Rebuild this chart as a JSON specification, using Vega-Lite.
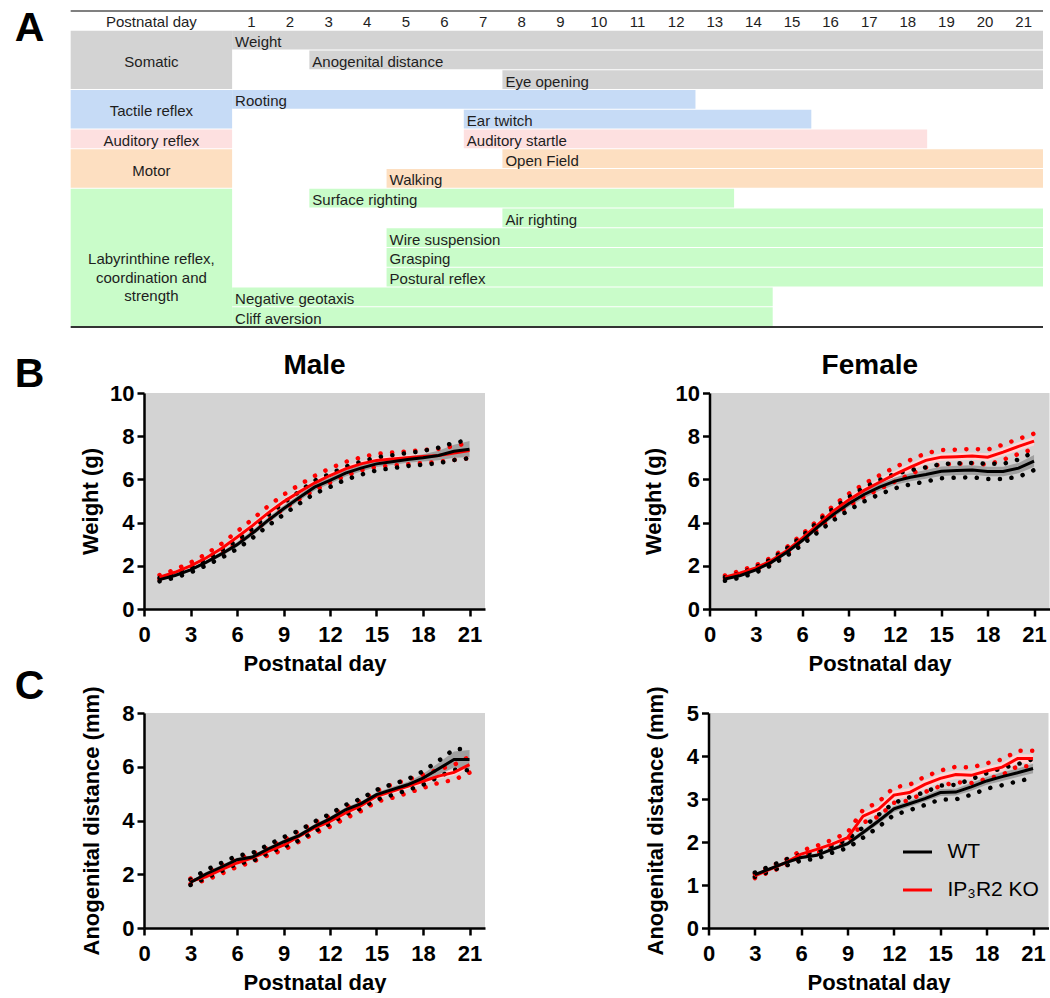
{
"$schema": "https://vega.github.io/schema/vega-lite/v6.json",
"background": "white",
"padding": {"left": 14, "top": 8, "right": 0, "bottom": 0},
"spacing": 24,
"config": {
  "font": "Liberation Sans",
  "view": {"stroke": null},
  "axis": {"grid": false, "domainColor": "black", "domainWidth": 2.5, "tickColor": "black", "tickWidth": 2.5, "tickSize": 7, "labelFont": "Liberation Sans", "labelFontSize": 22, "labelFontWeight": "bold", "labelColor": "black", "titleFont": "Liberation Sans", "titleFontSize": 22, "titleFontWeight": "bold", "titleColor": "black", "labelFlush": false, "labelOverlap": false},
  "text": {"font": "Liberation Sans", "color": "black"}
},
"datasets": {
  "groups": [
    {"group": "Somatic", "label": "Somatic", "first": 1, "last": 3},
    {"group": "Tactile reflex", "label": "Tactile reflex", "first": 4, "last": 5},
    {"group": "Auditory reflex", "label": "Auditory reflex", "first": 6, "last": 6},
    {"group": "Motor", "label": "Motor", "first": 7, "last": 8},
    {"group": "Labyrinthine", "label": "Labyrinthine reflex,\ncoordination and\nstrength", "first": 9, "last": 15}
  ],
  "tests": [
    {"row": 1, "test": "Weight", "group": "Somatic", "from": 1, "to": 21},
    {"row": 2, "test": "Anogenital distance", "group": "Somatic", "from": 3, "to": 21},
    {"row": 3, "test": "Eye opening", "group": "Somatic", "from": 8, "to": 21},
    {"row": 4, "test": "Rooting", "group": "Tactile reflex", "from": 1, "to": 12},
    {"row": 5, "test": "Ear twitch", "group": "Tactile reflex", "from": 7, "to": 15},
    {"row": 6, "test": "Auditory startle", "group": "Auditory reflex", "from": 7, "to": 18},
    {"row": 7, "test": "Open Field", "group": "Motor", "from": 8, "to": 21},
    {"row": 8, "test": "Walking", "group": "Motor", "from": 5, "to": 21},
    {"row": 9, "test": "Surface righting", "group": "Labyrinthine", "from": 3, "to": 13},
    {"row": 10, "test": "Air righting", "group": "Labyrinthine", "from": 8, "to": 21},
    {"row": 11, "test": "Wire suspension", "group": "Labyrinthine", "from": 5, "to": 21},
    {"row": 12, "test": "Grasping", "group": "Labyrinthine", "from": 5, "to": 21},
    {"row": 13, "test": "Postural reflex", "group": "Labyrinthine", "from": 5, "to": 21},
    {"row": 14, "test": "Negative geotaxis", "group": "Labyrinthine", "from": 1, "to": 14},
    {"row": 15, "test": "Cliff aversion", "group": "Labyrinthine", "from": 1, "to": 14}
  ],
  "days": [{"day": 1},{"day": 2},{"day": 3},{"day": 4},{"day": 5},{"day": 6},{"day": 7},{"day": 8},{"day": 9},{"day": 10},{"day": 11},{"day": 12},{"day": 13},{"day": 14},{"day": 15},{"day": 16},{"day": 17},{"day": 18},{"day": 19},{"day": 20},{"day": 21}],
  "maleWeight": [
    {"geno": "IP₃R2 KO", "day": 1, "mean": 1.47, "sem": 0.06, "sd": 0.10},
    {"geno": "IP₃R2 KO", "day": 2, "mean": 1.70, "sem": 0.07, "sd": 0.12},
    {"geno": "IP₃R2 KO", "day": 3, "mean": 2.00, "sem": 0.08, "sd": 0.15},
    {"geno": "IP₃R2 KO", "day": 4, "mean": 2.36, "sem": 0.09, "sd": 0.18},
    {"geno": "IP₃R2 KO", "day": 5, "mean": 2.80, "sem": 0.10, "sd": 0.22},
    {"geno": "IP₃R2 KO", "day": 6, "mean": 3.32, "sem": 0.12, "sd": 0.26},
    {"geno": "IP₃R2 KO", "day": 7, "mean": 3.86, "sem": 0.13, "sd": 0.30},
    {"geno": "IP₃R2 KO", "day": 8, "mean": 4.44, "sem": 0.14, "sd": 0.32},
    {"geno": "IP₃R2 KO", "day": 9, "mean": 4.96, "sem": 0.14, "sd": 0.33},
    {"geno": "IP₃R2 KO", "day": 10, "mean": 5.41, "sem": 0.14, "sd": 0.33},
    {"geno": "IP₃R2 KO", "day": 11, "mean": 5.83, "sem": 0.14, "sd": 0.33},
    {"geno": "IP₃R2 KO", "day": 12, "mean": 6.18, "sem": 0.14, "sd": 0.33},
    {"geno": "IP₃R2 KO", "day": 13, "mean": 6.49, "sem": 0.14, "sd": 0.32},
    {"geno": "IP₃R2 KO", "day": 14, "mean": 6.72, "sem": 0.13, "sd": 0.30},
    {"geno": "IP₃R2 KO", "day": 15, "mean": 6.88, "sem": 0.13, "sd": 0.30},
    {"geno": "IP₃R2 KO", "day": 16, "mean": 6.94, "sem": 0.13, "sd": 0.30},
    {"geno": "IP₃R2 KO", "day": 17, "mean": 7.00, "sem": 0.13, "sd": 0.30},
    {"geno": "IP₃R2 KO", "day": 18, "mean": 7.06, "sem": 0.13, "sd": 0.30},
    {"geno": "IP₃R2 KO", "day": 19, "mean": 7.11, "sem": 0.13, "sd": 0.30},
    {"geno": "IP₃R2 KO", "day": 20, "mean": 7.22, "sem": 0.14, "sd": 0.32},
    {"geno": "IP₃R2 KO", "day": 21, "mean": 7.34, "sem": 0.15, "sd": 0.35},
    {"geno": "WT", "day": 1, "mean": 1.36, "sem": 0.05, "sd": 0.08},
    {"geno": "WT", "day": 2, "mean": 1.55, "sem": 0.06, "sd": 0.10},
    {"geno": "WT", "day": 3, "mean": 1.81, "sem": 0.07, "sd": 0.12},
    {"geno": "WT", "day": 4, "mean": 2.16, "sem": 0.08, "sd": 0.15},
    {"geno": "WT", "day": 5, "mean": 2.55, "sem": 0.10, "sd": 0.18},
    {"geno": "WT", "day": 6, "mean": 2.98, "sem": 0.11, "sd": 0.20},
    {"geno": "WT", "day": 7, "mean": 3.51, "sem": 0.12, "sd": 0.22},
    {"geno": "WT", "day": 8, "mean": 4.10, "sem": 0.13, "sd": 0.25},
    {"geno": "WT", "day": 9, "mean": 4.64, "sem": 0.14, "sd": 0.27},
    {"geno": "WT", "day": 10, "mean": 5.15, "sem": 0.15, "sd": 0.28},
    {"geno": "WT", "day": 11, "mean": 5.64, "sem": 0.15, "sd": 0.30},
    {"geno": "WT", "day": 12, "mean": 5.95, "sem": 0.15, "sd": 0.30},
    {"geno": "WT", "day": 13, "mean": 6.29, "sem": 0.15, "sd": 0.30},
    {"geno": "WT", "day": 14, "mean": 6.52, "sem": 0.15, "sd": 0.30},
    {"geno": "WT", "day": 15, "mean": 6.72, "sem": 0.15, "sd": 0.30},
    {"geno": "WT", "day": 16, "mean": 6.82, "sem": 0.15, "sd": 0.30},
    {"geno": "WT", "day": 17, "mean": 6.92, "sem": 0.15, "sd": 0.30},
    {"geno": "WT", "day": 18, "mean": 7.00, "sem": 0.17, "sd": 0.32},
    {"geno": "WT", "day": 19, "mean": 7.11, "sem": 0.22, "sd": 0.36},
    {"geno": "WT", "day": 20, "mean": 7.30, "sem": 0.30, "sd": 0.40},
    {"geno": "WT", "day": 21, "mean": 7.40, "sem": 0.38, "sd": 0.42}
  ],
  "femaleWeight": [
    {"geno": "IP₃R2 KO", "day": 1, "mean": 1.47, "sem": 0.05, "sd": 0.08},
    {"geno": "IP₃R2 KO", "day": 2, "mean": 1.67, "sem": 0.06, "sd": 0.10},
    {"geno": "IP₃R2 KO", "day": 3, "mean": 1.90, "sem": 0.07, "sd": 0.12},
    {"geno": "IP₃R2 KO", "day": 4, "mean": 2.24, "sem": 0.08, "sd": 0.14},
    {"geno": "IP₃R2 KO", "day": 5, "mean": 2.70, "sem": 0.09, "sd": 0.16},
    {"geno": "IP₃R2 KO", "day": 6, "mean": 3.28, "sem": 0.10, "sd": 0.18},
    {"geno": "IP₃R2 KO", "day": 7, "mean": 3.89, "sem": 0.12, "sd": 0.22},
    {"geno": "IP₃R2 KO", "day": 8, "mean": 4.53, "sem": 0.13, "sd": 0.25},
    {"geno": "IP₃R2 KO", "day": 9, "mean": 5.05, "sem": 0.14, "sd": 0.28},
    {"geno": "IP₃R2 KO", "day": 10, "mean": 5.49, "sem": 0.15, "sd": 0.30},
    {"geno": "IP₃R2 KO", "day": 11, "mean": 5.87, "sem": 0.16, "sd": 0.32},
    {"geno": "IP₃R2 KO", "day": 12, "mean": 6.23, "sem": 0.17, "sd": 0.33},
    {"geno": "IP₃R2 KO", "day": 13, "mean": 6.57, "sem": 0.17, "sd": 0.33},
    {"geno": "IP₃R2 KO", "day": 14, "mean": 6.88, "sem": 0.17, "sd": 0.33},
    {"geno": "IP₃R2 KO", "day": 15, "mean": 7.03, "sem": 0.17, "sd": 0.33},
    {"geno": "IP₃R2 KO", "day": 16, "mean": 7.05, "sem": 0.17, "sd": 0.33},
    {"geno": "IP₃R2 KO", "day": 17, "mean": 7.08, "sem": 0.17, "sd": 0.33},
    {"geno": "IP₃R2 KO", "day": 18, "mean": 7.03, "sem": 0.18, "sd": 0.35},
    {"geno": "IP₃R2 KO", "day": 19, "mean": 7.26, "sem": 0.18, "sd": 0.35},
    {"geno": "IP₃R2 KO", "day": 20, "mean": 7.53, "sem": 0.19, "sd": 0.35},
    {"geno": "IP₃R2 KO", "day": 21, "mean": 7.77, "sem": 0.20, "sd": 0.35},
    {"geno": "WT", "day": 1, "mean": 1.39, "sem": 0.05, "sd": 0.08},
    {"geno": "WT", "day": 2, "mean": 1.55, "sem": 0.06, "sd": 0.10},
    {"geno": "WT", "day": 3, "mean": 1.81, "sem": 0.07, "sd": 0.12},
    {"geno": "WT", "day": 4, "mean": 2.16, "sem": 0.08, "sd": 0.14},
    {"geno": "WT", "day": 5, "mean": 2.63, "sem": 0.09, "sd": 0.17},
    {"geno": "WT", "day": 6, "mean": 3.17, "sem": 0.10, "sd": 0.20},
    {"geno": "WT", "day": 7, "mean": 3.79, "sem": 0.12, "sd": 0.24},
    {"geno": "WT", "day": 8, "mean": 4.37, "sem": 0.13, "sd": 0.27},
    {"geno": "WT", "day": 9, "mean": 4.87, "sem": 0.15, "sd": 0.30},
    {"geno": "WT", "day": 10, "mean": 5.30, "sem": 0.16, "sd": 0.32},
    {"geno": "WT", "day": 11, "mean": 5.64, "sem": 0.17, "sd": 0.33},
    {"geno": "WT", "day": 12, "mean": 5.92, "sem": 0.17, "sd": 0.33},
    {"geno": "WT", "day": 13, "mean": 6.10, "sem": 0.18, "sd": 0.33},
    {"geno": "WT", "day": 14, "mean": 6.23, "sem": 0.20, "sd": 0.33},
    {"geno": "WT", "day": 15, "mean": 6.38, "sem": 0.22, "sd": 0.33},
    {"geno": "WT", "day": 16, "mean": 6.41, "sem": 0.22, "sd": 0.33},
    {"geno": "WT", "day": 17, "mean": 6.43, "sem": 0.22, "sd": 0.33},
    {"geno": "WT", "day": 18, "mean": 6.37, "sem": 0.22, "sd": 0.35},
    {"geno": "WT", "day": 19, "mean": 6.37, "sem": 0.22, "sd": 0.35},
    {"geno": "WT", "day": 20, "mean": 6.52, "sem": 0.24, "sd": 0.40},
    {"geno": "WT", "day": 21, "mean": 6.85, "sem": 0.28, "sd": 0.42}
  ],
  "maleAgd": [
    {"geno": "IP₃R2 KO", "day": 3, "mean": 1.74, "sem": 0.05, "sd": 0.10},
    {"geno": "IP₃R2 KO", "day": 4, "mean": 1.90, "sem": 0.06, "sd": 0.12},
    {"geno": "IP₃R2 KO", "day": 5, "mean": 2.17, "sem": 0.07, "sd": 0.15},
    {"geno": "IP₃R2 KO", "day": 6, "mean": 2.42, "sem": 0.07, "sd": 0.15},
    {"geno": "IP₃R2 KO", "day": 7, "mean": 2.61, "sem": 0.07, "sd": 0.15},
    {"geno": "IP₃R2 KO", "day": 8, "mean": 2.85, "sem": 0.07, "sd": 0.15},
    {"geno": "IP₃R2 KO", "day": 9, "mean": 3.08, "sem": 0.08, "sd": 0.18},
    {"geno": "IP₃R2 KO", "day": 10, "mean": 3.41, "sem": 0.09, "sd": 0.20},
    {"geno": "IP₃R2 KO", "day": 11, "mean": 3.72, "sem": 0.09, "sd": 0.20},
    {"geno": "IP₃R2 KO", "day": 12, "mean": 3.97, "sem": 0.09, "sd": 0.20},
    {"geno": "IP₃R2 KO", "day": 13, "mean": 4.28, "sem": 0.09, "sd": 0.20},
    {"geno": "IP₃R2 KO", "day": 14, "mean": 4.55, "sem": 0.09, "sd": 0.20},
    {"geno": "IP₃R2 KO", "day": 15, "mean": 4.90, "sem": 0.09, "sd": 0.20},
    {"geno": "IP₃R2 KO", "day": 16, "mean": 5.09, "sem": 0.11, "sd": 0.25},
    {"geno": "IP₃R2 KO", "day": 17, "mean": 5.27, "sem": 0.11, "sd": 0.25},
    {"geno": "IP₃R2 KO", "day": 18, "mean": 5.46, "sem": 0.11, "sd": 0.25},
    {"geno": "IP₃R2 KO", "day": 19, "mean": 5.65, "sem": 0.11, "sd": 0.25},
    {"geno": "IP₃R2 KO", "day": 20, "mean": 5.79, "sem": 0.12, "sd": 0.28},
    {"geno": "IP₃R2 KO", "day": 21, "mean": 6.08, "sem": 0.13, "sd": 0.30},
    {"geno": "WT", "day": 3, "mean": 1.70, "sem": 0.05, "sd": 0.10},
    {"geno": "WT", "day": 4, "mean": 2.01, "sem": 0.07, "sd": 0.15},
    {"geno": "WT", "day": 5, "mean": 2.27, "sem": 0.07, "sd": 0.15},
    {"geno": "WT", "day": 6, "mean": 2.54, "sem": 0.07, "sd": 0.15},
    {"geno": "WT", "day": 7, "mean": 2.64, "sem": 0.07, "sd": 0.15},
    {"geno": "WT", "day": 8, "mean": 2.94, "sem": 0.07, "sd": 0.15},
    {"geno": "WT", "day": 9, "mean": 3.20, "sem": 0.08, "sd": 0.18},
    {"geno": "WT", "day": 10, "mean": 3.44, "sem": 0.08, "sd": 0.18},
    {"geno": "WT", "day": 11, "mean": 3.78, "sem": 0.08, "sd": 0.18},
    {"geno": "WT", "day": 12, "mean": 4.06, "sem": 0.08, "sd": 0.18},
    {"geno": "WT", "day": 13, "mean": 4.40, "sem": 0.08, "sd": 0.18},
    {"geno": "WT", "day": 14, "mean": 4.63, "sem": 0.08, "sd": 0.18},
    {"geno": "WT", "day": 15, "mean": 4.96, "sem": 0.08, "sd": 0.18},
    {"geno": "WT", "day": 16, "mean": 5.15, "sem": 0.10, "sd": 0.20},
    {"geno": "WT", "day": 17, "mean": 5.33, "sem": 0.10, "sd": 0.20},
    {"geno": "WT", "day": 18, "mean": 5.58, "sem": 0.15, "sd": 0.25},
    {"geno": "WT", "day": 19, "mean": 5.92, "sem": 0.22, "sd": 0.30},
    {"geno": "WT", "day": 20, "mean": 6.27, "sem": 0.30, "sd": 0.38},
    {"geno": "WT", "day": 21, "mean": 6.27, "sem": 0.35, "sd": 0.40}
  ],
  "femaleAgd": [
    {"geno": "IP₃R2 KO", "day": 3, "mean": 1.21, "sem": 0.03, "sd": 0.05},
    {"geno": "IP₃R2 KO", "day": 4, "mean": 1.37, "sem": 0.03, "sd": 0.06},
    {"geno": "IP₃R2 KO", "day": 5, "mean": 1.52, "sem": 0.04, "sd": 0.07},
    {"geno": "IP₃R2 KO", "day": 6, "mean": 1.72, "sem": 0.04, "sd": 0.08},
    {"geno": "IP₃R2 KO", "day": 7, "mean": 1.83, "sem": 0.04, "sd": 0.08},
    {"geno": "IP₃R2 KO", "day": 8, "mean": 1.95, "sem": 0.05, "sd": 0.10},
    {"geno": "IP₃R2 KO", "day": 9, "mean": 2.10, "sem": 0.06, "sd": 0.12},
    {"geno": "IP₃R2 KO", "day": 10, "mean": 2.60, "sem": 0.08, "sd": 0.15},
    {"geno": "IP₃R2 KO", "day": 11, "mean": 2.76, "sem": 0.09, "sd": 0.17},
    {"geno": "IP₃R2 KO", "day": 12, "mean": 3.09, "sem": 0.10, "sd": 0.18},
    {"geno": "IP₃R2 KO", "day": 13, "mean": 3.15, "sem": 0.10, "sd": 0.18},
    {"geno": "IP₃R2 KO", "day": 14, "mean": 3.34, "sem": 0.10, "sd": 0.18},
    {"geno": "IP₃R2 KO", "day": 15, "mean": 3.48, "sem": 0.10, "sd": 0.18},
    {"geno": "IP₃R2 KO", "day": 16, "mean": 3.57, "sem": 0.10, "sd": 0.18},
    {"geno": "IP₃R2 KO", "day": 17, "mean": 3.55, "sem": 0.10, "sd": 0.18},
    {"geno": "IP₃R2 KO", "day": 18, "mean": 3.65, "sem": 0.10, "sd": 0.18},
    {"geno": "IP₃R2 KO", "day": 19, "mean": 3.74, "sem": 0.10, "sd": 0.18},
    {"geno": "IP₃R2 KO", "day": 20, "mean": 3.94, "sem": 0.10, "sd": 0.18},
    {"geno": "IP₃R2 KO", "day": 21, "mean": 3.94, "sem": 0.10, "sd": 0.18},
    {"geno": "WT", "day": 3, "mean": 1.24, "sem": 0.03, "sd": 0.05},
    {"geno": "WT", "day": 4, "mean": 1.38, "sem": 0.03, "sd": 0.06},
    {"geno": "WT", "day": 5, "mean": 1.52, "sem": 0.04, "sd": 0.07},
    {"geno": "WT", "day": 6, "mean": 1.64, "sem": 0.04, "sd": 0.07},
    {"geno": "WT", "day": 7, "mean": 1.69, "sem": 0.04, "sd": 0.08},
    {"geno": "WT", "day": 8, "mean": 1.83, "sem": 0.04, "sd": 0.08},
    {"geno": "WT", "day": 9, "mean": 1.96, "sem": 0.05, "sd": 0.10},
    {"geno": "WT", "day": 10, "mean": 2.22, "sem": 0.06, "sd": 0.12},
    {"geno": "WT", "day": 11, "mean": 2.49, "sem": 0.07, "sd": 0.14},
    {"geno": "WT", "day": 12, "mean": 2.77, "sem": 0.07, "sd": 0.14},
    {"geno": "WT", "day": 13, "mean": 2.89, "sem": 0.07, "sd": 0.15},
    {"geno": "WT", "day": 14, "mean": 3.01, "sem": 0.07, "sd": 0.15},
    {"geno": "WT", "day": 15, "mean": 3.15, "sem": 0.08, "sd": 0.16},
    {"geno": "WT", "day": 16, "mean": 3.16, "sem": 0.08, "sd": 0.17},
    {"geno": "WT", "day": 17, "mean": 3.28, "sem": 0.09, "sd": 0.18},
    {"geno": "WT", "day": 18, "mean": 3.42, "sem": 0.09, "sd": 0.18},
    {"geno": "WT", "day": 19, "mean": 3.52, "sem": 0.10, "sd": 0.20},
    {"geno": "WT", "day": 20, "mean": 3.61, "sem": 0.10, "sd": 0.20},
    {"geno": "WT", "day": 21, "mean": 3.71, "sem": 0.11, "sd": 0.22}
  ]
},
"vconcat": [
  {"hconcat": [
    {
      "width": 899, "height": 316,
      "view": {"fill": "white", "stroke": null},
      "layer": [
        {"data": {"name": "groups"},
         "transform": [{"calculate": "datum.first - 0.5", "as": "top"}, {"calculate": "datum.last + 0.5", "as": "bottom"}],
         "mark": {"type": "rect", "y2Offset": -1},
         "encoding": {
           "x": {"datum": -3.681, "type": "quantitative", "scale": {"domain": [-1.782, 21.5], "nice": false, "zero": false}, "axis": null},
           "x2": {"datum": 0.5},
           "y": {"field": "top", "type": "quantitative", "scale": {"domain": [-0.5, 15.5], "nice": false, "zero": false, "reverse": true}, "axis": null},
           "y2": {"field": "bottom"},
           "color": {"field": "group", "type": "nominal", "scale": {"domain": ["Somatic", "Tactile reflex", "Auditory reflex", "Motor", "Labyrinthine"], "range": ["#d3d3d3", "#c6dbf6", "#fde0e0", "#fddfc1", "#c9fcc9"]}, "legend": null}
         }},
        {"data": {"name": "tests"},
         "transform": [{"calculate": "datum.from - 0.5", "as": "x0"}, {"calculate": "datum.to + 0.5", "as": "x1"}, {"calculate": "datum.row - 0.5", "as": "y0"}, {"calculate": "datum.row + 0.5", "as": "y1"}],
         "mark": {"type": "rect", "y2Offset": -1},
         "encoding": {
           "x": {"field": "x0", "type": "quantitative", "scale": {"domain": [-1.782, 21.5], "nice": false, "zero": false}, "axis": null},
           "x2": {"field": "x1"},
           "y": {"field": "y0", "type": "quantitative", "scale": {"domain": [-0.5, 15.5], "nice": false, "zero": false, "reverse": true}, "axis": null},
           "y2": {"field": "y1"},
           "color": {"field": "group", "type": "nominal", "legend": null}
         }},
        {"data": {"name": "tests"},
         "transform": [{"calculate": "datum.from - 0.5", "as": "x0"}],
         "mark": {"type": "text", "align": "left", "baseline": "middle", "dx": 3, "dy": 1.5, "fontSize": 15, "color": "#1e1e1e"},
         "encoding": {
           "x": {"field": "x0", "type": "quantitative", "axis": null},
           "y": {"field": "row", "type": "quantitative", "axis": null},
           "text": {"field": "test"}
         }},
        {"data": {"name": "groups"},
         "transform": [{"calculate": "(datum.first + datum.last) / 2", "as": "mid"}],
         "mark": {"type": "text", "align": "center", "baseline": "middle", "dy": 1.5, "fontSize": 15, "lineBreak": "\n", "lineHeight": 18.5, "color": "#1e1e1e"},
         "encoding": {
           "x": {"datum": -1.59, "axis": null},
           "y": {"field": "mid", "type": "quantitative", "axis": null},
           "text": {"field": "label"}
         }},
        {"data": {"name": "days"},
         "mark": {"type": "text", "align": "center", "baseline": "middle", "dy": 1, "fontSize": 15, "color": "#1e1e1e"},
         "encoding": {
           "x": {"field": "day", "type": "quantitative", "axis": null},
           "y": {"datum": 0, "axis": null},
           "text": {"field": "day"}
         }},
        {"data": {"values": [{}]},
         "mark": {"type": "text", "align": "center", "baseline": "middle", "dy": 1, "fontSize": 15, "color": "#1e1e1e", "text": "Postnatal day"},
         "encoding": {"x": {"datum": -1.59, "axis": null}, "y": {"datum": 0, "axis": null}}},
        {"data": {"values": [{}]},
         "mark": {"type": "rule", "color": "#808080", "strokeWidth": 2},
         "encoding": {"x": {"datum": -3.681, "axis": null}, "x2": {"datum": 21.5}, "y": {"datum": -0.5, "axis": null}}},
        {"data": {"values": [{}]},
         "mark": {"type": "rule", "color": "#333333", "strokeWidth": 2},
         "encoding": {"x": {"datum": -3.681, "axis": null}, "x2": {"datum": 21.5}, "y": {"datum": 15.5, "axis": null}}},
        {"data": {"values": [{}]},
         "mark": {"type": "text", "text": "A", "fontSize": 41, "fontWeight": "bold", "align": "left", "baseline": "alphabetic"},
         "encoding": {"x": {"datum": -5.132, "axis": null}, "y": {"datum": 1.019, "axis": null}}}
      ]
    }
  ]},
  {"vconcat": [
    {"hconcat": [
      {
        "width": 341, "height": 216,
        "view": {"fill": "#d3d3d3", "stroke": null},
        "data": {"name": "maleWeight"},
        "layer": [
          {"mark": {"type": "errorband", "borders": false, "band": {"opacity": 1}},
           "encoding": {
             "x": {"field": "day", "type": "quantitative", "title": "Postnatal day", "scale": {"domain": [0, 22], "nice": false, "zero": false}, "axis": {"values": [0, 3, 6, 9, 12, 15, 18, 21], "labelPadding": 8, "titlePadding": 8}},
             "y": {"field": "mean", "type": "quantitative", "title": "Weight (g)", "scale": {"domain": [0, 10], "nice": false}, "axis": {"values": [0, 2, 4, 6, 8, 10], "labelPadding": 3, "titlePadding": 7}},
             "yError": {"field": "sem"},
             "color": {"field": "geno", "type": "nominal", "scale": {"domain": ["WT", "IP₃R2 KO"], "range": ["#a0a0a0", "#ffd4d4"]}, "legend": null}
           }},
          {"mark": {"type": "errorband", "band": false, "borders": {"strokeDash": [0.1, 11.5], "strokeCap": "round", "strokeWidth": 4.5}},
           "encoding": {
             "x": {"field": "day", "type": "quantitative", "title": "Postnatal day", "scale": {"domain": [0, 22], "nice": false, "zero": false}},
             "y": {"field": "mean", "type": "quantitative", "title": "Weight (g)", "scale": {"domain": [0, 10], "nice": false}},
             "yError": {"field": "sd"},
             "color": {"field": "geno", "type": "nominal", "scale": {"domain": ["WT", "IP₃R2 KO"], "range": ["black", "red"]}, "legend": null}
           }},
          {"mark": {"type": "line", "strokeWidth": 3},
           "encoding": {
             "x": {"field": "day", "type": "quantitative", "title": "Postnatal day", "scale": {"domain": [0, 22], "nice": false, "zero": false}},
             "y": {"field": "mean", "type": "quantitative", "title": "Weight (g)", "scale": {"domain": [0, 10], "nice": false}},
             "color": {"field": "geno", "type": "nominal", "scale": {"domain": ["WT", "IP₃R2 KO"], "range": ["black", "red"]}, "legend": null}
           }},
          {"data": {"values": [{}]},
           "mark": {"type": "text", "text": "B", "fontSize": 41, "fontWeight": "bold", "align": "left", "baseline": "alphabetic"},
           "encoding": {"x": {"datum": -8.342, "title": "Postnatal day"}, "y": {"datum": 10.28, "title": "Weight (g)"}}},
          {"data": {"values": [{}]},
           "mark": {"type": "text", "text": "Male", "fontSize": 28, "fontWeight": "bold", "align": "center", "baseline": "alphabetic"},
           "encoding": {"x": {"datum": 11, "title": "Postnatal day"}, "y": {"datum": 10.87, "title": "Weight (g)"}}}
        ],
        "resolve": {"scale": {"color": "independent"}}
      },
      {
        "width": 340, "height": 216,
        "view": {"fill": "#d3d3d3", "stroke": null},
        "data": {"name": "femaleWeight"},
        "layer": [
          {"mark": {"type": "errorband", "borders": false, "band": {"opacity": 1}},
           "encoding": {
             "x": {"field": "day", "type": "quantitative", "title": "Postnatal day", "scale": {"domain": [0, 22], "nice": false, "zero": false}, "axis": {"values": [0, 3, 6, 9, 12, 15, 18, 21], "labelPadding": 8, "titlePadding": 8}},
             "y": {"field": "mean", "type": "quantitative", "title": "Weight (g)", "scale": {"domain": [0, 10], "nice": false}, "axis": {"values": [0, 2, 4, 6, 8, 10], "labelPadding": 3, "titlePadding": 9.5}},
             "yError": {"field": "sem"},
             "color": {"field": "geno", "type": "nominal", "scale": {"domain": ["WT", "IP₃R2 KO"], "range": ["#a0a0a0", "#ffd4d4"]}, "legend": null}
           }},
          {"mark": {"type": "errorband", "band": false, "borders": {"strokeDash": [0.1, 11.5], "strokeCap": "round", "strokeWidth": 4.5}},
           "encoding": {
             "x": {"field": "day", "type": "quantitative", "title": "Postnatal day", "scale": {"domain": [0, 22], "nice": false, "zero": false}},
             "y": {"field": "mean", "type": "quantitative", "title": "Weight (g)", "scale": {"domain": [0, 10], "nice": false}},
             "yError": {"field": "sd"},
             "color": {"field": "geno", "type": "nominal", "scale": {"domain": ["WT", "IP₃R2 KO"], "range": ["black", "red"]}, "legend": null}
           }},
          {"mark": {"type": "line", "strokeWidth": 3},
           "encoding": {
             "x": {"field": "day", "type": "quantitative", "title": "Postnatal day", "scale": {"domain": [0, 22], "nice": false, "zero": false}},
             "y": {"field": "mean", "type": "quantitative", "title": "Weight (g)", "scale": {"domain": [0, 10], "nice": false}},
             "color": {"field": "geno", "type": "nominal", "scale": {"domain": ["WT", "IP₃R2 KO"], "range": ["black", "red"]}, "legend": null}
           }},
          {"data": {"values": [{}]},
           "mark": {"type": "text", "text": "Female", "fontSize": 28, "fontWeight": "bold", "align": "center", "baseline": "alphabetic"},
           "encoding": {"x": {"datum": 10.375, "title": "Postnatal day"}, "y": {"datum": 10.87, "title": "Weight (g)"}}}
        ],
        "resolve": {"scale": {"color": "independent"}}
      }
    ], "spacing": 157.5},
    {"hconcat": [
      {
        "width": 341, "height": 215,
        "view": {"fill": "#d3d3d3", "stroke": null},
        "data": {"name": "maleAgd"},
        "layer": [
          {"mark": {"type": "errorband", "borders": false, "band": {"opacity": 1}},
           "encoding": {
             "x": {"field": "day", "type": "quantitative", "title": "Postnatal day", "scale": {"domain": [0, 22], "nice": false, "zero": false}, "axis": {"values": [0, 3, 6, 9, 12, 15, 18, 21], "labelPadding": 8, "titlePadding": 8}},
             "y": {"field": "mean", "type": "quantitative", "title": "Anogenital distance (mm)", "scale": {"domain": [0, 8], "nice": false}, "axis": {"values": [0, 2, 4, 6, 8], "labelPadding": 3, "titlePadding": 18.5}},
             "yError": {"field": "sem"},
             "color": {"field": "geno", "type": "nominal", "scale": {"domain": ["WT", "IP₃R2 KO"], "range": ["#a0a0a0", "#ffd4d4"]}, "legend": null}
           }},
          {"mark": {"type": "errorband", "band": false, "borders": {"strokeDash": [0.1, 11.5], "strokeCap": "round", "strokeWidth": 4.5}},
           "encoding": {
             "x": {"field": "day", "type": "quantitative", "title": "Postnatal day", "scale": {"domain": [0, 22], "nice": false, "zero": false}},
             "y": {"field": "mean", "type": "quantitative", "title": "Anogenital distance (mm)", "scale": {"domain": [0, 8], "nice": false}},
             "yError": {"field": "sd"},
             "color": {"field": "geno", "type": "nominal", "scale": {"domain": ["WT", "IP₃R2 KO"], "range": ["black", "red"]}, "legend": null}
           }},
          {"mark": {"type": "line", "strokeWidth": 3},
           "encoding": {
             "x": {"field": "day", "type": "quantitative", "title": "Postnatal day", "scale": {"domain": [0, 22], "nice": false, "zero": false}},
             "y": {"field": "mean", "type": "quantitative", "title": "Anogenital distance (mm)", "scale": {"domain": [0, 8], "nice": false}},
             "color": {"field": "geno", "type": "nominal", "scale": {"domain": ["WT", "IP₃R2 KO"], "range": ["black", "red"]}, "legend": null}
           }},
          {"data": {"values": [{}]},
           "mark": {"type": "text", "text": "C", "fontSize": 41, "fontWeight": "bold", "align": "left", "baseline": "alphabetic"},
           "encoding": {"x": {"datum": -8.342, "title": "Postnatal day"}, "y": {"datum": 8.53, "title": "Anogenital distance (mm)"}}}
        ],
        "resolve": {"scale": {"color": "independent"}}
      },
      {
        "width": 340, "height": 215,
        "view": {"fill": "#d3d3d3", "stroke": null},
        "data": {"name": "femaleAgd"},
        "layer": [
          {"mark": {"type": "errorband", "borders": false, "band": {"opacity": 1}},
           "encoding": {
             "x": {"field": "day", "type": "quantitative", "title": "Postnatal day", "scale": {"domain": [0, 22], "nice": false, "zero": false}, "axis": {"values": [0, 3, 6, 9, 12, 15, 18, 21], "labelPadding": 8, "titlePadding": 8}},
             "y": {"field": "mean", "type": "quantitative", "title": "Anogenital distance (mm)", "scale": {"domain": [0, 5], "nice": false}, "axis": {"values": [0, 1, 2, 3, 4, 5], "labelPadding": 3, "titlePadding": 19}},
             "yError": {"field": "sem"},
             "color": {"field": "geno", "type": "nominal", "scale": {"domain": ["WT", "IP₃R2 KO"], "range": ["#a0a0a0", "#ffd4d4"]}, "legend": null}
           }},
          {"mark": {"type": "errorband", "band": false, "borders": {"strokeDash": [0.1, 11.5], "strokeCap": "round", "strokeWidth": 4.5}},
           "encoding": {
             "x": {"field": "day", "type": "quantitative", "title": "Postnatal day", "scale": {"domain": [0, 22], "nice": false, "zero": false}},
             "y": {"field": "mean", "type": "quantitative", "title": "Anogenital distance (mm)", "scale": {"domain": [0, 5], "nice": false}},
             "yError": {"field": "sd"},
             "color": {"field": "geno", "type": "nominal", "scale": {"domain": ["WT", "IP₃R2 KO"], "range": ["black", "red"]}, "legend": null}
           }},
          {"mark": {"type": "line", "strokeWidth": 3},
           "encoding": {
             "x": {"field": "day", "type": "quantitative", "title": "Postnatal day", "scale": {"domain": [0, 22], "nice": false, "zero": false}},
             "y": {"field": "mean", "type": "quantitative", "title": "Anogenital distance (mm)", "scale": {"domain": [0, 5], "nice": false}},
             "color": {"field": "geno", "type": "nominal", "scale": {"domain": ["WT", "IP₃R2 KO"], "range": ["black", "red"]},
               "legend": {"orient": "none", "legendX": 193, "legendY": 123, "title": null, "symbolType": "stroke", "symbolSize": 841, "symbolStrokeWidth": 3, "labelFontSize": 21, "labelFont": "Liberation Sans", "labelColor": "black", "labelOffset": 14, "rowPadding": 12, "padding": 0}}
           }}
        ],
        "resolve": {"scale": {"color": "independent"}}
      }
    ], "spacing": 158.5}
  ], "spacing": -9}
]
}
